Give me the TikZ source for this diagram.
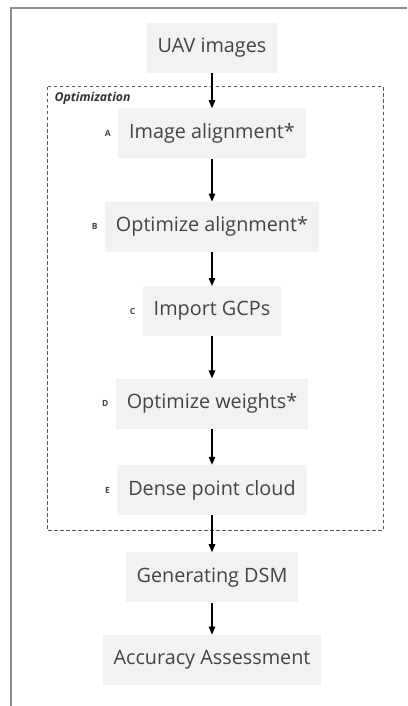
\documentclass[tikz,border=0pt]{standalone}
\usepackage{fontspec}
\setmainfont{Open Sans}
\usetikzlibrary{positioning,arrows.meta}
\definecolor{boxgray}{HTML}{F2F2F2}
\definecolor{inkgray}{HTML}{444444}
\definecolor{framegray}{HTML}{8E8E8E}
\definecolor{dashgray}{HTML}{555555}

\begin{document}
\begin{tikzpicture}[x=1pt, y=-1pt, font=\fontsize{19.8}{23}\selectfont,
          stage/.style={fill=boxgray, text=inkgray, inner xsep=11pt, inner ysep=0pt,
                        minimum height=50pt},
          tag/.style={text=inkgray, font=\bfseries\fontsize{8.5}{9}\selectfont, inner sep=1pt},
          flow/.style={-{Triangle[length=8pt,width=6.5pt]}, line width=1.3pt}]
        \useasboundingbox (0,0) rectangle (407,706);
        % outer frame, cut off at right and bottom
        \draw[framegray, line width=1.6pt] (11,706) -- (11,8) -- (407,8);
        % optimization group
        \draw[dashgray, line width=1pt, dash pattern=on 3.5pt off 2.5pt] (47,87) rectangle (383,530);
        \node[anchor=west, text=black!80, font=\bfseries\itshape\fontsize{12.3}{14}\selectfont]
             (optlbl) at (51,98) {Optimization};
        % stages top to bottom
        \node[stage] (uav) at (212,48) {UAV images};
        \node[stage, below=35pt of uav] (align) {Image alignment*};
        \node[stage, below=43pt of align] (optal) {Optimize alignment*};
        \node[stage, below=34pt of optal] (gcp) {Import GCPs};
        \node[stage, below=42pt of gcp] (weights) {Optimize weights*};
        \node[stage, below=36pt of weights] (dense) {Dense point cloud};
        \node[stage, below=37pt of dense] (dsm) {Generating DSM};
        \node[stage, below=32pt of dsm] (acc) {Accuracy Assessment};
        % step letters
        \node[tag, left=6pt of align] {A};
        \node[tag, left=6pt of optal] {B};
        \node[tag, left=6pt of gcp] {C};
        \node[tag, left=6pt of weights] {D};
        \node[tag, left=6pt of dense] {E};
        % arrows between stages
        \foreach \a/\b in {uav/align,align/optal,optal/gcp,gcp/weights,weights/dense,dense/dsm,dsm/acc}
          \draw[flow] (\a) -- (\b);
      \end{tikzpicture}
\end{document}
